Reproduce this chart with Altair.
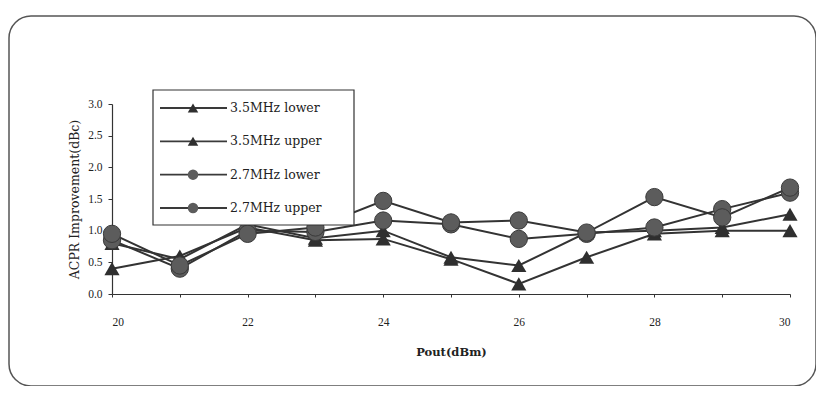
import altair as alt
import pandas as pd

# ---- data ----
pout = [20, 21, 22, 23, 24, 25, 26, 27, 28, 29, 30]
series_names = ["3.5MHz lower", "3.5MHz upper", "2.7MHz lower", "2.7MHz upper"]
s35_lower = [0.40, 0.60, 1.05, 0.85, 0.87, 0.55, 0.16, 0.58, 0.95, 1.00, 1.00]
s35_upper = [0.80, 0.55, 1.10, 0.88, 1.00, 0.58, 0.45, 0.97, 1.00, 1.05, 1.26]
s27_lower = [0.85, 0.40, 1.00, 0.98, 1.16, 1.10, 0.87, 0.95, 1.05, 1.34, 1.60]
s27_upper = [0.95, 0.45, 0.95, 1.05, 1.47, 1.13, 1.16, 0.97, 1.53, 1.21, 1.68]
series_values = [s35_lower, s35_upper, s27_lower, s27_upper]
shapes = ["triangle-up", "triangle-up", "circle", "circle"]
y_ticks = [0.0, 0.5, 1.0, 1.5, 2.0, 2.5, 3.0]
x_ticks = list(range(20, 31))

rows = []
for name, shp, vals in zip(series_names, shapes, series_values):
    for xv, v in zip(pout, vals):
        rows.append({"series": name, "shape": shp, "pout": xv, "val": v})
df = pd.DataFrame(rows)

leg = pd.DataFrame({"series": series_names, "shape": shapes,
                    "row": list(range(len(series_names)))})
one = pd.DataFrame({"k": [0]})

SERIF = "Liberation Serif"
WIDE = "DejaVu Serif"
W, H = 678, 190

x_enc = alt.X("pout:Q", scale=alt.Scale(domain=[20, 30], nice=False),
              axis=alt.Axis(values=x_ticks,
                            labelExpr="datum.value % 2 == 0 ? datum.label : ''",
                            title="Pout(dBm)", grid=False, tickSize=3,
                            labelPadding=19, titleY=58, titleBaseline="middle",
                            titleFont=WIDE, titleFontWeight="bold", titleFontSize=11.5))
y_enc = alt.Y("val:Q", scale=alt.Scale(domain=[0, 3], nice=False),
              axis=alt.Axis(values=y_ticks, format=".1f", grid=False, tickSize=4,
                            labelPadding=6,
                            title="ACPR Improvement(dBc)", titleX=-38, titleY=95,
                            titleAngle=-90, titleAlign="center",
                            titleBaseline="middle", titleFontSize=12.5,
                            titleFont=WIDE, titleFontWeight="normal"))

frame = alt.Chart(one).mark_rect(fill="white", fillOpacity=0, stroke="#555",
                                 strokeWidth=1.5, cornerRadius=22).encode(
    x=alt.value(-103), x2=alt.value(704), y=alt.value(-88), y2=alt.value(282))

lines = alt.Chart(df).mark_line(color="#333", strokeWidth=2).encode(
    x=x_enc, y=y_enc, detail="series:N")

tri = alt.Chart(df).transform_filter(alt.datum.shape == "triangle-up").mark_point(
    shape="triangle-up", filled=True, opacity=1, color="#2f2f2f", size=230).encode(
    x=x_enc, y=y_enc)
circ = alt.Chart(df).transform_filter(alt.datum.shape == "circle").mark_point(
    shape="circle", filled=True, opacity=1, color="#5c5c5c", stroke="#3a3a3a",
    strokeWidth=1, size=300).encode(x=x_enc, y=y_enc)

data_layer = alt.layer(frame, lines, tri, circ)

ly = alt.Y("row:Q", scale=alt.Scale(domain=[0, 3], range=[4, 104]), axis=None)
leg_box = alt.Chart(one).mark_rect(fill="white", stroke="#333", strokeWidth=1.2).encode(
    x=alt.value(41), x2=alt.value(242), y=alt.value(-14), y2=alt.value(121))
leg_line = alt.Chart(leg).mark_rule(color="#3a3a3a", strokeWidth=1.8).encode(
    x=alt.value(48), x2=alt.value(115), y=ly)
leg_pts = alt.Chart(leg).mark_point(filled=True, opacity=1, size=110).encode(
    x=alt.value(81), y=ly,
    shape=alt.Shape("series:N", scale=alt.Scale(domain=series_names, range=shapes), legend=None),
    color=alt.Color("series:N", scale=alt.Scale(domain=series_names,
                    range=["#2f2f2f", "#2f2f2f", "#5c5c5c", "#5c5c5c"]), legend=None))
leg_txt = alt.Chart(leg).mark_text(align="left", baseline="middle", font=WIDE,
                                   fontSize=12.5, color="#222").encode(
    x=alt.value(118), y=ly, text="series:N")

legend_layer = alt.layer(leg_box, leg_line, leg_pts, leg_txt)

chart = alt.layer(data_layer, legend_layer).resolve_scale(
    y="independent", shape="independent", color="independent"
).properties(
    width=W, height=H, autosize="none",
    padding={"left": 104, "top": 96, "right": 26, "bottom": 92},
    background="white"
).configure_view(stroke=None).configure_axis(
    domainColor="#333", tickColor="#333", labelColor="#222", titleColor="#222",
    labelFont=SERIF, labelFontSize=11.5, domainWidth=1.2
)

chart.save("out.html", embed_options={"renderer": "svg", "actions": False})
